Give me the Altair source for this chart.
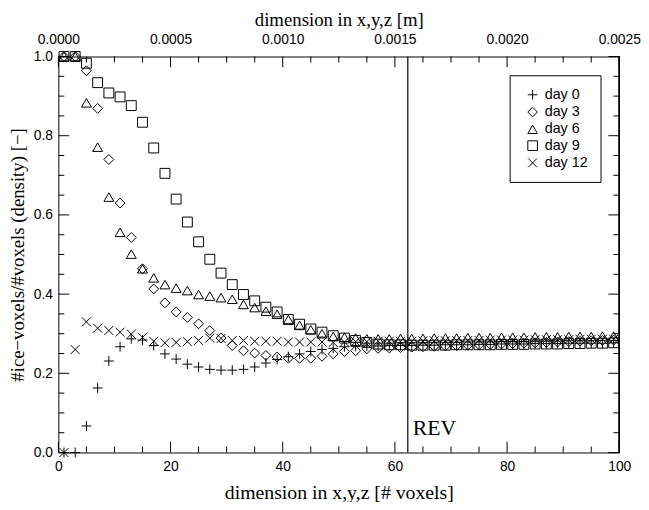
import altair as alt
import pandas as pd

# ---- data ----
voxels = list(range(1, 100, 2))  # 1,3,...,99

day0 = [0.0, 0.0, 0.067, 0.163, 0.231, 0.267, 0.287, 0.284, 0.270, 0.249,
        0.236, 0.223, 0.216, 0.210, 0.208, 0.208, 0.210, 0.216, 0.226, 0.235,
        0.242, 0.249, 0.255, 0.260, 0.263, 0.267, 0.268, 0.269, 0.269, 0.270,
        0.270, 0.270, 0.271, 0.271, 0.272, 0.272, 0.272, 0.273, 0.273, 0.274,
        0.274, 0.274, 0.275, 0.275, 0.275, 0.276, 0.276, 0.276, 0.276, 0.277]
day3 = [1.0, 1.0, 0.964, 0.869, 0.740, 0.630, 0.543, 0.464, 0.413, 0.378,
        0.355, 0.341, 0.325, 0.308, 0.289, 0.270, 0.257, 0.251, 0.245, 0.241,
        0.238, 0.238, 0.238, 0.243, 0.249, 0.255, 0.257, 0.262, 0.263, 0.264,
        0.265, 0.266, 0.267, 0.268, 0.269, 0.270, 0.271, 0.272, 0.273, 0.274,
        0.275, 0.276, 0.277, 0.278, 0.279, 0.280, 0.281, 0.282, 0.283, 0.284]
day6 = [1.0, 1.0, 0.883, 0.771, 0.645, 0.556, 0.501, 0.464, 0.441, 0.424,
        0.415, 0.409, 0.399, 0.395, 0.391, 0.387, 0.374, 0.366, 0.357, 0.349,
        0.336, 0.321, 0.310, 0.300, 0.293, 0.291, 0.289, 0.287, 0.287, 0.287,
        0.288, 0.288, 0.288, 0.289, 0.289, 0.289, 0.290, 0.290, 0.290, 0.291,
        0.291, 0.291, 0.292, 0.292, 0.292, 0.293, 0.293, 0.293, 0.294, 0.294]
day9 = [1.0, 1.0, 0.983, 0.934, 0.908, 0.898, 0.876, 0.834, 0.769, 0.705,
        0.640, 0.582, 0.532, 0.488, 0.453, 0.424, 0.399, 0.383, 0.367, 0.355,
        0.336, 0.324, 0.312, 0.304, 0.295, 0.289, 0.283, 0.278, 0.274, 0.272,
        0.272, 0.271, 0.271, 0.271, 0.271, 0.272, 0.272, 0.272, 0.272, 0.273,
        0.273, 0.273, 0.274, 0.274, 0.274, 0.275, 0.275, 0.276, 0.276, 0.277]
day12 = [0.0, 0.260, 0.330, 0.314, 0.308, 0.304, 0.299, 0.291, 0.281, 0.277,
         0.278, 0.280, 0.283, 0.289, 0.288, 0.283, 0.283, 0.281, 0.281, 0.281,
         0.279, 0.279, 0.279, 0.279, 0.278, 0.279, 0.280, 0.280, 0.281, 0.281,
         0.281, 0.281, 0.282, 0.282, 0.282, 0.283, 0.283, 0.283, 0.284, 0.284,
         0.284, 0.284, 0.285, 0.285, 0.285, 0.285, 0.286, 0.286, 0.286, 0.286]

NB = "\u00a0"
series_labels = ["day 0" + NB, "day 3" + NB, "day 6" + NB, "day 9" + NB,
                 "day 12" + NB]
series_values = [day0, day3, day6, day9, day12]
shapes = ["M-1,0L1,0M0,-1L0,1", "diamond", "triangle-up", "square",
          "M-0.9,-0.9L0.9,0.9M-0.9,0.9L0.9,-0.9"]

x_major = [0, 20, 40, 60, 80, 100]
x_minor = [5, 10, 15, 25, 30, 35, 45, 50, 55, 65, 70, 75, 85, 90, 95]
y_major = [0.0, 0.2, 0.4, 0.6, 0.8, 1.0]
y_minor = [0.05, 0.1, 0.15, 0.25, 0.3, 0.35, 0.45, 0.5, 0.55, 0.65, 0.7,
           0.75, 0.85, 0.9, 0.95]
m_per_voxel = 0.000025
rev_x = [62.3]
rev_label = ["REV"]
rev_y = [0.062]

rows = []
for lab, vals in zip(series_labels, series_values):
    for xv, yv in zip(voxels, vals):
        rows.append({"x": xv, "y": yv, "day": lab})
df = pd.DataFrame(rows)
rev_df = pd.DataFrame({"x": rev_x, "y": rev_y, "t": rev_label})
xmaj_df = pd.DataFrame({"v": x_major})
xmin_df = pd.DataFrame({"v": x_minor})
ymaj_df = pd.DataFrame({"v": y_major})
ymin_df = pd.DataFrame({"v": y_minor})

W, H = 568, 401
SANS = "Liberation Sans"
SERIF = "Liberation Serif"
MAJ, MIN = 11, 6

xs = alt.Scale(domain=[0, 100], nice=False, zero=False)
ys = alt.Scale(domain=[0, 1], nice=False, zero=False)

base = alt.Chart(df)

points = base.mark_point(filled=False, color="black", size=100, strokeWidth=1,
                         opacity=1).encode(
    x=alt.X("x:Q", scale=xs, axis=alt.Axis(
        orient="bottom", values=x_major, format="d", ticks=False, tickSize=0,
        labelPadding=7, labelFont=SANS, labelFontSize=14, labelColor="black",
        labelFlush=False, domain=True, domainColor="black", grid=False,
        title="dimension in x,y,z [# voxels]", titleFont=SERIF,
        titleFontSize=20, titleFontWeight="normal", titleColor="black",
        titlePadding=10)),
    y=alt.Y("y:Q", scale=ys, axis=alt.Axis(
        orient="left", values=y_major, format=".1f", ticks=False, tickSize=0,
        labelPadding=6, labelFont=SANS, labelFontSize=14, labelColor="black",
        domain=True, domainColor="black", grid=False,
        title="#ice\u2212voxels/#voxels (density) [\u2212]", titleFont=SERIF,
        titleFontSize=19, titleFontWeight="normal", titleColor="black",
        titlePadding=6)),
    shape=alt.Shape("day:N", scale=alt.Scale(domain=series_labels, range=shapes),
                    legend=alt.Legend(
                        title=None, orient="none", legendX=457, legendY=19,
                        strokeColor="black", fillColor="white", padding=12.5,
                        labelFont=SANS, labelFontSize=14.5, labelColor="black",
                        symbolSize=95, symbolStrokeColor="black",
                        symbolStrokeWidth=1, symbolFillColor="transparent",
                        rowPadding=1.5, labelOffset=5, symbolOffset=3.5)),
)

top_labels = base.mark_point(opacity=0).encode(
    x=alt.X("x:Q", scale=xs, axis=alt.Axis(
        orient="top", values=x_major, ticks=False, tickSize=0,
        labelExpr=f"format(datum.value * {m_per_voxel}, '.4f')",
        labelPadding=10, labelFont=SANS, labelFontSize=14, labelColor="black",
        labelFlush=False, domain=True, domainColor="black", grid=False,
        title="dimension in x,y,z [m]", titleFont=SERIF, titleFontSize=19,
        titleFontWeight="normal", titleColor="black", titlePadding=3)),
    y=alt.Y("y:Q", scale=ys, axis=None))


def xticks(data, edge, size, sign):
    return alt.Chart(data).mark_tick(
        orient="vertical", size=size, thickness=1, color="black", opacity=1,
        yOffset=sign * size / 2).encode(
        x=alt.X("v:Q", scale=xs, axis=None),
        y=alt.YDatum(edge, type="quantitative", scale=ys, axis=None))


def yticks(data, edge, size, sign):
    return alt.Chart(data).mark_tick(
        orient="horizontal", size=size, thickness=1, color="black", opacity=1,
        xOffset=sign * size / 2).encode(
        y=alt.Y("v:Q", scale=ys, axis=None),
        x=alt.XDatum(edge, type="quantitative", scale=xs, axis=None))


tick_layers = [
    xticks(xmaj_df, 0, MAJ, -1), xticks(xmin_df, 0, MIN, -1),
    xticks(xmaj_df, 1, MAJ, 1), xticks(xmin_df, 1, MIN, 1),
    yticks(ymaj_df, 0, MAJ, 1), yticks(ymin_df, 0, MIN, 1),
    yticks(ymaj_df, 100, MAJ, -1), yticks(ymin_df, 100, MIN, -1),
]

right_frame = alt.Chart(xmaj_df).mark_rule(color="black", strokeWidth=1).encode(
    x=alt.XDatum(100, type="quantitative", scale=xs, axis=None))

rev_rule = alt.Chart(rev_df).mark_rule(color="black", strokeWidth=1.2).encode(
    x=alt.X("x:Q", scale=xs, axis=None))
rev_text = alt.Chart(rev_df).mark_text(
    align="left", baseline="middle", dx=5, font=SERIF, fontSize=22,
    color="black").encode(
    x=alt.X("x:Q", scale=xs, axis=None),
    y=alt.Y("y:Q", scale=ys, axis=None),
    text="t:N")

chart = alt.layer(points, top_labels, *tick_layers, right_frame, rev_rule,
                  rev_text).resolve_axis(
    x="independent", y="independent"
).properties(
    width=W, height=H,
    autosize=alt.AutoSizeParams(type="none"),
    padding={"left": 51, "top": 46, "right": 22, "bottom": 47},
    background="white",
).configure_view(stroke=None)

chart.save("out.html", embed_options={"renderer": "svg", "actions": False})
